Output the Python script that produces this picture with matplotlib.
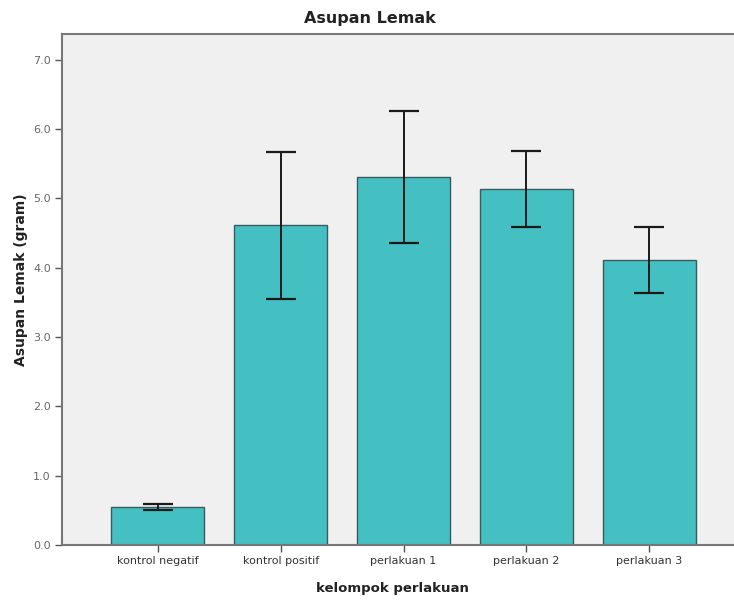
import numpy as np
import matplotlib
matplotlib.use("Agg")
import matplotlib.pyplot as plt

plt.rcParams['font.family'] = ['DejaVu Sans']

groups = ["kontrol negatif", "kontrol positif", "perlakuan 1", "perlakuan 2", "perlakuan 3"]
means = [0.55, 4.61, 5.31, 5.13, 4.11]
errs = [0.04, 1.06, 0.95, 0.55, 0.47]
yticks = [0.0, 1.0, 2.0, 3.0, 4.0, 5.0, 6.0, 7.0]

fig = plt.figure(figsize=(7.34, 6.01), dpi=100)
ax = fig.add_axes([62 / 734, 56 / 601, 672 / 734, 511 / 601])
ax.set_facecolor("#f0f0f0")

x = np.arange(len(groups))
ax.bar(x, means, width=0.755, color="#44bfc2", edgecolor="#3a5a5c", linewidth=1.0, zorder=2)
ax.errorbar(x, means, yerr=errs, fmt="none", ecolor="#1a1a1a", elinewidth=1.4,
            capsize=11, capthick=1.6, zorder=3)

ax.set_xlim(-0.78, 4.69)
ax.set_ylim(0, 7.37)
ax.set_xticks(x)
ax.set_xticklabels(groups, fontsize=8, color="#333333")
ax.set_yticks(yticks)
ax.set_yticklabels(["%.1f" % v for v in yticks], fontsize=8, color="#666666")
ax.tick_params(axis="both", direction="out", length=5, width=1, color="#555555", pad=3)

for s in ["left", "bottom", "top"]:
    ax.spines[s].set_color("#777777")
    ax.spines[s].set_linewidth(1.5)
ax.spines["right"].set_visible(False)

# title sits left of the axes centre in the original
fig.text(370 / 734, 1 - 18 / 601, "Asupan Lemak", fontsize=11.5, fontweight="bold",
         color="#222222", ha="center", va="center")
ax.set_ylabel("Asupan Lemak (gram)", fontsize=10, fontweight="bold", color="#222222")
ax.set_xlabel("kelompok perlakuan", fontsize=9.5, fontweight="bold", color="#222222")
ax.yaxis.set_label_coords(-0.05, 0.519)
ax.xaxis.set_label_coords(0.491, -0.072)

fig.savefig("out.png", dpi=100)
